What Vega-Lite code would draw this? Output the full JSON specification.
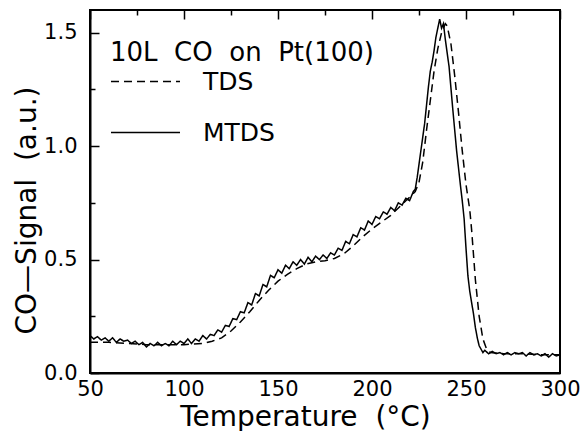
{
  "$schema": "https://vega.github.io/schema/vega-lite/v6.json",
  "width": 470,
  "height": 363,
  "autosize": {"type": "none"},
  "padding": {"left": 90, "top": 10, "right": 20, "bottom": 58},
  "config": {
    "view": {"stroke": "black", "strokeWidth": 2}
  },
  "data": {"values": [
      {"T": 50, "s": 0.135, "series": "TDS"}, {"T": 60, "s": 0.135, "series": "TDS"}, {"T": 70, "s": 0.13, "series": "TDS"},
      {"T": 80, "s": 0.125, "series": "TDS"}, {"T": 90, "s": 0.125, "series": "TDS"}, {"T": 100, "s": 0.125, "series": "TDS"},
      {"T": 110, "s": 0.13, "series": "TDS"}, {"T": 115, "s": 0.14, "series": "TDS"}, {"T": 120, "s": 0.155, "series": "TDS"},
      {"T": 125, "s": 0.185, "series": "TDS"}, {"T": 130, "s": 0.225, "series": "TDS"}, {"T": 135, "s": 0.27, "series": "TDS"},
      {"T": 140, "s": 0.32, "series": "TDS"}, {"T": 145, "s": 0.365, "series": "TDS"}, {"T": 150, "s": 0.405, "series": "TDS"},
      {"T": 155, "s": 0.435, "series": "TDS"}, {"T": 160, "s": 0.46, "series": "TDS"}, {"T": 165, "s": 0.48, "series": "TDS"},
      {"T": 170, "s": 0.49, "series": "TDS"}, {"T": 175, "s": 0.495, "series": "TDS"}, {"T": 180, "s": 0.505, "series": "TDS"},
      {"T": 185, "s": 0.525, "series": "TDS"}, {"T": 190, "s": 0.56, "series": "TDS"}, {"T": 195, "s": 0.6, "series": "TDS"},
      {"T": 200, "s": 0.635, "series": "TDS"}, {"T": 205, "s": 0.665, "series": "TDS"}, {"T": 210, "s": 0.695, "series": "TDS"},
      {"T": 215, "s": 0.735, "series": "TDS"}, {"T": 220, "s": 0.775, "series": "TDS"}, {"T": 223, "s": 0.8, "series": "TDS"},
      {"T": 225, "s": 0.84, "series": "TDS"}, {"T": 227, "s": 0.93, "series": "TDS"}, {"T": 228, "s": 1.0, "series": "TDS"},
      {"T": 229, "s": 1.07, "series": "TDS"}, {"T": 231, "s": 1.2, "series": "TDS"}, {"T": 233, "s": 1.33, "series": "TDS"},
      {"T": 235, "s": 1.43, "series": "TDS"}, {"T": 237, "s": 1.5, "series": "TDS"}, {"T": 239, "s": 1.54, "series": "TDS"},
      {"T": 240, "s": 1.53, "series": "TDS"}, {"T": 242, "s": 1.45, "series": "TDS"}, {"T": 244, "s": 1.31, "series": "TDS"},
      {"T": 246, "s": 1.15, "series": "TDS"}, {"T": 248, "s": 0.98, "series": "TDS"}, {"T": 250, "s": 0.83, "series": "TDS"},
      {"T": 252, "s": 0.72, "series": "TDS"}, {"T": 253, "s": 0.63, "series": "TDS"}, {"T": 255, "s": 0.41, "series": "TDS"},
      {"T": 257, "s": 0.25, "series": "TDS"}, {"T": 259, "s": 0.15, "series": "TDS"}, {"T": 261, "s": 0.105, "series": "TDS"},
      {"T": 263, "s": 0.09, "series": "TDS"}, {"T": 270, "s": 0.085, "series": "TDS"}, {"T": 280, "s": 0.085, "series": "TDS"},
      {"T": 290, "s": 0.08, "series": "TDS"}, {"T": 300, "s": 0.08, "series": "TDS"},

      {"T": 50, "s": 0.165, "series": "MTDS"}, {"T": 52, "s": 0.15, "series": "MTDS"}, {"T": 54, "s": 0.16, "series": "MTDS"},
      {"T": 56, "s": 0.145, "series": "MTDS"}, {"T": 58, "s": 0.155, "series": "MTDS"}, {"T": 60, "s": 0.14, "series": "MTDS"},
      {"T": 62, "s": 0.155, "series": "MTDS"}, {"T": 64, "s": 0.135, "series": "MTDS"}, {"T": 66, "s": 0.15, "series": "MTDS"},
      {"T": 68, "s": 0.14, "series": "MTDS"}, {"T": 70, "s": 0.145, "series": "MTDS"}, {"T": 72, "s": 0.13, "series": "MTDS"},
      {"T": 74, "s": 0.14, "series": "MTDS"}, {"T": 76, "s": 0.125, "series": "MTDS"}, {"T": 78, "s": 0.135, "series": "MTDS"},
      {"T": 80, "s": 0.115, "series": "MTDS"}, {"T": 82, "s": 0.13, "series": "MTDS"}, {"T": 84, "s": 0.12, "series": "MTDS"},
      {"T": 86, "s": 0.135, "series": "MTDS"}, {"T": 88, "s": 0.12, "series": "MTDS"}, {"T": 90, "s": 0.13, "series": "MTDS"},
      {"T": 92, "s": 0.12, "series": "MTDS"}, {"T": 94, "s": 0.14, "series": "MTDS"}, {"T": 96, "s": 0.125, "series": "MTDS"},
      {"T": 98, "s": 0.14, "series": "MTDS"}, {"T": 100, "s": 0.13, "series": "MTDS"}, {"T": 102, "s": 0.15, "series": "MTDS"},
      {"T": 104, "s": 0.13, "series": "MTDS"}, {"T": 106, "s": 0.15, "series": "MTDS"}, {"T": 108, "s": 0.14, "series": "MTDS"},
      {"T": 110, "s": 0.165, "series": "MTDS"}, {"T": 112, "s": 0.15, "series": "MTDS"}, {"T": 114, "s": 0.17, "series": "MTDS"},
      {"T": 116, "s": 0.165, "series": "MTDS"}, {"T": 118, "s": 0.19, "series": "MTDS"}, {"T": 120, "s": 0.18, "series": "MTDS"},
      {"T": 122, "s": 0.21, "series": "MTDS"}, {"T": 124, "s": 0.205, "series": "MTDS"}, {"T": 126, "s": 0.24, "series": "MTDS"},
      {"T": 128, "s": 0.235, "series": "MTDS"}, {"T": 130, "s": 0.27, "series": "MTDS"}, {"T": 132, "s": 0.265, "series": "MTDS"},
      {"T": 134, "s": 0.31, "series": "MTDS"}, {"T": 136, "s": 0.3, "series": "MTDS"}, {"T": 138, "s": 0.35, "series": "MTDS"},
      {"T": 140, "s": 0.34, "series": "MTDS"}, {"T": 142, "s": 0.39, "series": "MTDS"}, {"T": 144, "s": 0.38, "series": "MTDS"},
      {"T": 146, "s": 0.43, "series": "MTDS"}, {"T": 148, "s": 0.42, "series": "MTDS"}, {"T": 150, "s": 0.455, "series": "MTDS"},
      {"T": 152, "s": 0.44, "series": "MTDS"}, {"T": 154, "s": 0.475, "series": "MTDS"}, {"T": 156, "s": 0.46, "series": "MTDS"},
      {"T": 158, "s": 0.49, "series": "MTDS"}, {"T": 160, "s": 0.475, "series": "MTDS"}, {"T": 162, "s": 0.5, "series": "MTDS"},
      {"T": 164, "s": 0.48, "series": "MTDS"}, {"T": 166, "s": 0.51, "series": "MTDS"}, {"T": 168, "s": 0.49, "series": "MTDS"},
      {"T": 170, "s": 0.515, "series": "MTDS"}, {"T": 172, "s": 0.5, "series": "MTDS"}, {"T": 174, "s": 0.52, "series": "MTDS"},
      {"T": 176, "s": 0.505, "series": "MTDS"}, {"T": 178, "s": 0.53, "series": "MTDS"}, {"T": 180, "s": 0.52, "series": "MTDS"},
      {"T": 182, "s": 0.55, "series": "MTDS"}, {"T": 184, "s": 0.54, "series": "MTDS"}, {"T": 186, "s": 0.58, "series": "MTDS"},
      {"T": 188, "s": 0.57, "series": "MTDS"}, {"T": 190, "s": 0.61, "series": "MTDS"}, {"T": 192, "s": 0.6, "series": "MTDS"},
      {"T": 194, "s": 0.64, "series": "MTDS"}, {"T": 196, "s": 0.63, "series": "MTDS"}, {"T": 198, "s": 0.67, "series": "MTDS"},
      {"T": 200, "s": 0.655, "series": "MTDS"}, {"T": 202, "s": 0.69, "series": "MTDS"}, {"T": 204, "s": 0.68, "series": "MTDS"},
      {"T": 206, "s": 0.71, "series": "MTDS"}, {"T": 208, "s": 0.7, "series": "MTDS"}, {"T": 210, "s": 0.73, "series": "MTDS"},
      {"T": 212, "s": 0.715, "series": "MTDS"}, {"T": 214, "s": 0.75, "series": "MTDS"}, {"T": 216, "s": 0.74, "series": "MTDS"},
      {"T": 218, "s": 0.77, "series": "MTDS"}, {"T": 220, "s": 0.76, "series": "MTDS"}, {"T": 222, "s": 0.8, "series": "MTDS"},
      {"T": 223, "s": 0.81, "series": "MTDS"}, {"T": 224, "s": 0.86, "series": "MTDS"}, {"T": 225, "s": 0.92, "series": "MTDS"},
      {"T": 226, "s": 0.98, "series": "MTDS"}, {"T": 227, "s": 1.04, "series": "MTDS"}, {"T": 228, "s": 1.1, "series": "MTDS"},
      {"T": 229, "s": 1.18, "series": "MTDS"}, {"T": 230, "s": 1.26, "series": "MTDS"}, {"T": 231, "s": 1.33, "series": "MTDS"},
      {"T": 232, "s": 1.37, "series": "MTDS"}, {"T": 233, "s": 1.42, "series": "MTDS"}, {"T": 234, "s": 1.48, "series": "MTDS"},
      {"T": 235, "s": 1.52, "series": "MTDS"}, {"T": 236, "s": 1.56, "series": "MTDS"}, {"T": 237, "s": 1.52, "series": "MTDS"},
      {"T": 238, "s": 1.54, "series": "MTDS"}, {"T": 239, "s": 1.47, "series": "MTDS"}, {"T": 240, "s": 1.41, "series": "MTDS"},
      {"T": 241, "s": 1.35, "series": "MTDS"}, {"T": 243, "s": 1.16, "series": "MTDS"}, {"T": 245, "s": 0.98, "series": "MTDS"},
      {"T": 247, "s": 0.83, "series": "MTDS"}, {"T": 248, "s": 0.76, "series": "MTDS"}, {"T": 249, "s": 0.68, "series": "MTDS"},
      {"T": 250, "s": 0.55, "series": "MTDS"}, {"T": 251, "s": 0.43, "series": "MTDS"}, {"T": 252, "s": 0.36, "series": "MTDS"},
      {"T": 253, "s": 0.31, "series": "MTDS"}, {"T": 254, "s": 0.26, "series": "MTDS"}, {"T": 255, "s": 0.2, "series": "MTDS"},
      {"T": 256, "s": 0.155, "series": "MTDS"}, {"T": 257, "s": 0.12, "series": "MTDS"}, {"T": 258, "s": 0.105, "series": "MTDS"},
      {"T": 259, "s": 0.09, "series": "MTDS"}, {"T": 260, "s": 0.1, "series": "MTDS"}, {"T": 262, "s": 0.085, "series": "MTDS"},
      {"T": 264, "s": 0.095, "series": "MTDS"}, {"T": 266, "s": 0.085, "series": "MTDS"}, {"T": 268, "s": 0.09, "series": "MTDS"},
      {"T": 270, "s": 0.08, "series": "MTDS"}, {"T": 272, "s": 0.09, "series": "MTDS"}, {"T": 274, "s": 0.08, "series": "MTDS"},
      {"T": 276, "s": 0.09, "series": "MTDS"}, {"T": 278, "s": 0.085, "series": "MTDS"}, {"T": 280, "s": 0.09, "series": "MTDS"},
      {"T": 282, "s": 0.075, "series": "MTDS"}, {"T": 284, "s": 0.09, "series": "MTDS"}, {"T": 286, "s": 0.08, "series": "MTDS"},
      {"T": 288, "s": 0.085, "series": "MTDS"}, {"T": 290, "s": 0.075, "series": "MTDS"}, {"T": 292, "s": 0.085, "series": "MTDS"},
      {"T": 294, "s": 0.07, "series": "MTDS"}, {"T": 296, "s": 0.085, "series": "MTDS"}, {"T": 298, "s": 0.075, "series": "MTDS"},
      {"T": 300, "s": 0.08, "series": "MTDS"}
  ]},
  "mark": {"type": "line", "color": "black", "strokeWidth": 1.5},
  "encoding": {
    "x": {
      "field": "T", "type": "quantitative",
      "scale": {"domain": [50, 300]},
      "axis": {
        "values": [50, 75, 100, 125, 150, 175, 200, 225, 250, 275, 300],
        "labelExpr": "datum.value % 50 == 0 ? datum.label : ''",
        "ticks": false, "grid": true, "gridColor": "black", "gridWidth": 1.5,
        "gridDash": {"condition": {"test": "datum.value % 50 == 0", "value": [9, 1000]}, "value": [5, 1000]},
        "domainColor": "black", "domainWidth": 2,
        "labelFont": "DejaVu Sans", "labelFontSize": 21, "labelColor": "black", "labelPadding": 5, "labelFlush": false, "labelOverlap": false,
        "title": "Temperature\u00a0\u00a0(°C)", "titleFont": "DejaVu Sans", "titleFontSize": 28, "titleFontWeight": "normal", "titleColor": "black",
        "titleX": 215, "titleY": 52, "titleBaseline": "alphabetic"
      }
    },
    "y": {
      "field": "s", "type": "quantitative",
      "scale": {"domain": [0, 1.6]},
      "axis": {
        "values": [0, 0.25, 0.5, 0.75, 1.0, 1.25, 1.5],
        "labelExpr": "datum.value % 0.5 == 0 ? format(datum.value, '.1f') : ''",
        "ticks": false, "grid": true, "gridColor": "black", "gridWidth": 1.5,
        "gridDash": {"condition": {"test": "datum.value % 0.5 == 0", "value": [9, 1000]}, "value": [5, 1000]},
        "domainColor": "black", "domainWidth": 2,
        "labelFont": "DejaVu Sans", "labelFontSize": 21, "labelColor": "black", "labelPadding": 13, "labelFlush": false, "labelOverlap": false,
        "title": "CO—Signal\u00a0\u00a0(a.u.)", "titleFont": "DejaVu Sans", "titleFontSize": 28, "titleFontWeight": "normal", "titleColor": "black",
        "titleX": -55, "titleY": 200, "titleBaseline": "alphabetic"
      }
    },
    "strokeDash": {
      "field": "series", "type": "nominal",
      "scale": {"domain": ["TDS", "MTDS"], "range": [[8, 5], [1, 0]]},
      "legend": {
        "title": "10L\u00a0\u00a0CO\u00a0\u00a0on\u00a0\u00a0Pt(100)", "orient": "none", "legendX": 20, "legendY": 30,
        "padding": 0, "titleFont": "DejaVu Sans", "titleFontSize": 26, "titleFontWeight": "normal",
        "titleColor": "black", "titlePadding": -20, "titleLimit": 400,
        "labelFont": "DejaVu Sans", "labelFontSize": 25, "labelColor": "black", "labelOffset": 22,
        "symbolType": "stroke", "symbolSize": 4761, "symbolStrokeColor": "black", "symbolStrokeWidth": 1.5
      }
    }
  }
}
